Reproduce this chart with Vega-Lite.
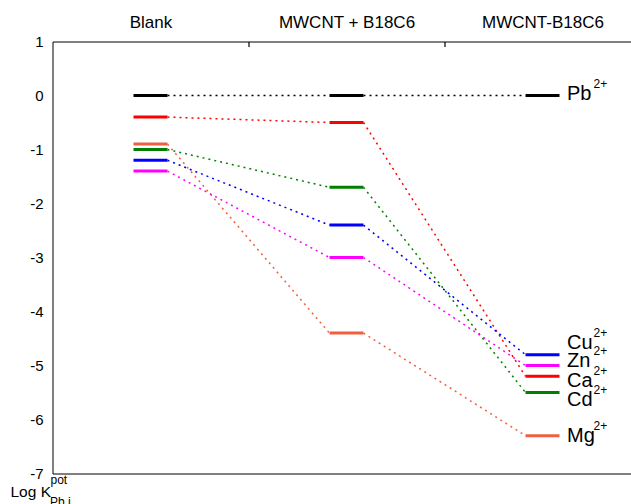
{
  "$schema": "https://vega.github.io/schema/vega-lite/v6.json",
  "width": 588,
  "height": 432,
  "autosize": {"type": "none"},
  "padding": {"left": 52.5, "top": 41.5, "right": 0, "bottom": 30},
  "background": "white",
  "config": {
    "view": {"stroke": "black", "strokeWidth": 1},
    "font": "Liberation Sans"
  },
  "title": {
    "text": "Pb,j",
    "orient": "bottom",
    "anchor": "start",
    "frame": "group",
    "fontSize": 12,
    "fontWeight": "normal",
    "font": "Liberation Sans",
    "color": "black",
    "baseline": "alphabetic",
    "offset": 6,
    "dx": -2.5
  },
  "datasets": {
    "levels": [
      {"ion": "Pb", "cond": 1, "v": 0},
      {"ion": "Pb", "cond": 2, "v": 0},
      {"ion": "Pb", "cond": 3, "v": 0},
      {"ion": "Ca", "cond": 1, "v": -0.4},
      {"ion": "Ca", "cond": 2, "v": -0.5},
      {"ion": "Ca", "cond": 3, "v": -5.2},
      {"ion": "Mg", "cond": 1, "v": -0.9},
      {"ion": "Mg", "cond": 2, "v": -4.4},
      {"ion": "Mg", "cond": 3, "v": -6.3},
      {"ion": "Cd", "cond": 1, "v": -1.0},
      {"ion": "Cd", "cond": 2, "v": -1.7},
      {"ion": "Cd", "cond": 3, "v": -5.5},
      {"ion": "Cu", "cond": 1, "v": -1.2},
      {"ion": "Cu", "cond": 2, "v": -2.4},
      {"ion": "Cu", "cond": 3, "v": -4.8},
      {"ion": "Zn", "cond": 1, "v": -1.4},
      {"ion": "Zn", "cond": 2, "v": -3.0},
      {"ion": "Zn", "cond": 3, "v": -5.0}
    ],
    "labels": [
      {"t": "Pb", "ly": -0.08},
      {"t": "Cu", "ly": -4.69},
      {"t": "Zn", "ly": -5.03},
      {"t": "Ca", "ly": -5.39},
      {"t": "Cd", "ly": -5.75},
      {"t": "Mg", "ly": -6.41}
    ]
  },
  "layer": [
    {
      "data": {"name": "levels"},
      "transform": [
        {
          "window": [
            {"op": "lead", "field": "v", "as": "v2"},
            {"op": "lead", "field": "cond", "as": "c2"}
          ],
          "groupby": ["ion"],
          "sort": [{"field": "cond", "order": "ascending"}]
        },
        {"filter": "datum.c2 != null"}
      ],
      "mark": {
        "type": "rule",
        "strokeDash": [2, 4],
        "strokeWidth": 1.5,
        "opacity": 1,
        "xOffset": 17,
        "x2Offset": -17
      },
      "encoding": {
        "x": {
          "field": "cond",
          "type": "quantitative",
          "scale": {"domain": [0.5, 3.5], "nice": false, "zero": false},
          "axis": {
            "orient": "top",
            "values": [1, 1.5, 2, 2.5, 3],
            "labelExpr": "datum.value === 1 ? 'Blank' : datum.value === 2 ? 'MWCNT + B18C6' : datum.value === 3 ? 'MWCNT-B18C6' : ''",
            "domain": false,
            "ticks": false,
            "grid": true,
            "gridColor": "black",
            "gridWidth": 1.2,
            "gridDash": [5, 2000],
            "gridDashOffset": 1578,
            "gridOpacity": {"condition": {"test": "datum.value === 1.5 || datum.value === 2.5", "value": 1}, "value": 0},
            "labelFontSize": 17,
            "labelColor": "black",
            "labelBaseline": "alphabetic",
            "labelPadding": 14.5,
            "labelFlush": false,
            "labelOverlap": false,
            "title": "pot",
            "titleAngle": 0,
            "titleAlign": "left",
            "titleBaseline": "alphabetic",
            "titleX": -2.5,
            "titleY": 441.5,
            "titleFontSize": 12,
            "titleFontWeight": "normal",
            "titleColor": "black"
          }
        },
        "x2": {"field": "c2"},
        "y": {
          "field": "v",
          "type": "quantitative",
          "scale": {"domain": [-7, 1], "nice": false, "zero": false},
          "axis": {
            "orient": "left",
            "values": [-7, -6.5, -6, -5.5, -5, -4.5, -4, -3.5, -3, -2.5, -2, -1.5, -1, -0.5, 0, 0.5, 1],
            "labelExpr": "datum.value % 1 === 0 ? '' + datum.value : ''",
            "domain": false,
            "ticks": false,
            "grid": true,
            "gridColor": "black",
            "gridWidth": 1.2,
            "gridOpacity": 1,
            "gridDash": {"condition": {"test": "datum.value % 1 !== 0", "value": [5, 2000]}, "value": [10, 2000]},
            "gridDashOffset": {"condition": {"test": "datum.value % 1 !== 0", "value": 1422}, "value": 1432},
            "labelFontSize": 15,
            "labelColor": "black",
            "labelPadding": 9.5,
            "labelOverlap": false,
            "labelFlush": false,
            "title": "Log K",
            "titleAngle": 0,
            "titleAlign": "left",
            "titleBaseline": "alphabetic",
            "titleX": -42.5,
            "titleY": 454.5,
            "titleFontSize": 15.5,
            "titleFontWeight": "normal",
            "titleColor": "black"
          }
        },
        "y2": {"field": "v2"},
        "color": {
          "field": "ion",
          "type": "nominal",
          "scale": {
            "domain": ["Pb", "Ca", "Mg", "Cd", "Cu", "Zn"],
            "range": ["#000000", "#ff0000", "#ee6040", "#008000", "#0000ff", "#ff00ff"]
          },
          "legend": null
        }
      }
    },
    {
      "data": {"name": "levels"},
      "mark": {"type": "tick", "orient": "horizontal", "size": 34, "thickness": 3, "opacity": 1},
      "encoding": {
        "x": {"field": "cond", "type": "quantitative"},
        "y": {"field": "v", "type": "quantitative"},
        "color": {"field": "ion", "type": "nominal", "legend": null}
      }
    },
    {
      "data": {"name": "labels"},
      "mark": {"type": "text", "align": "left", "baseline": "alphabetic", "dx": 24.5, "fontSize": 20, "font": "Liberation Sans", "color": "black"},
      "encoding": {
        "x": {"datum": 3, "type": "quantitative"},
        "y": {"field": "ly", "type": "quantitative"},
        "text": {"field": "t"}
      }
    },
    {
      "data": {"name": "labels"},
      "mark": {"type": "text", "align": "left", "baseline": "alphabetic", "dx": 51, "dy": -12, "fontSize": 12, "font": "Liberation Sans", "color": "black", "text": "2+"},
      "encoding": {
        "x": {"datum": 3, "type": "quantitative"},
        "y": {"field": "ly", "type": "quantitative"}
      }
    }
  ]
}
